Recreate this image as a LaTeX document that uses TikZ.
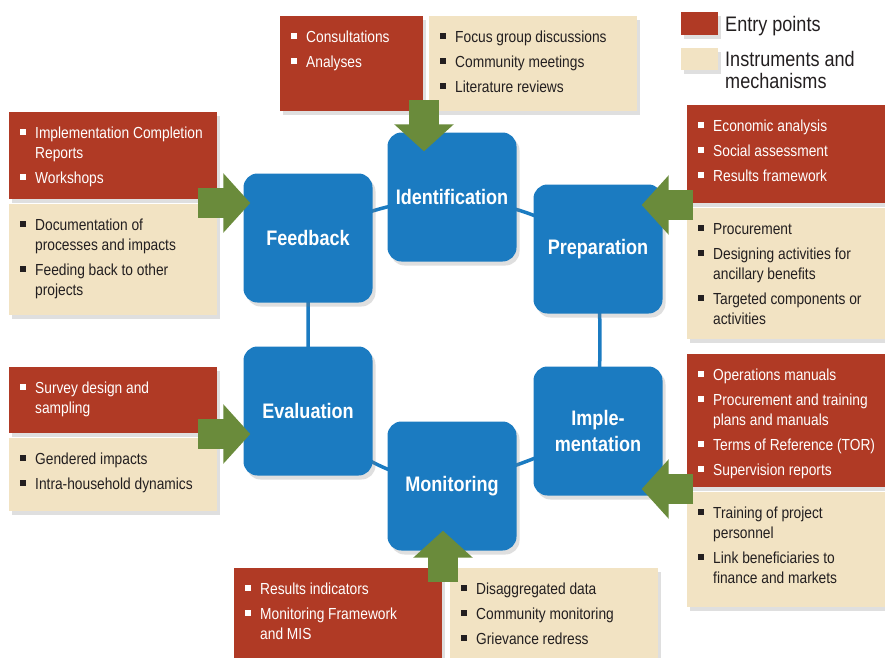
\documentclass[tikz,border=0pt]{standalone}
\usepackage{fontspec}
\setmainfont{Liberation Sans}[FakeStretch=0.86]
\usetikzlibrary{arrows.meta,shadows,backgrounds}

\definecolor{entryred}{RGB}{176,58,37}
\definecolor{instrbeige}{RGB}{242,227,195}
\definecolor{stageblue}{RGB}{27,123,193}
\definecolor{arrowgreen}{RGB}{106,139,59}
\definecolor{textdark}{RGB}{35,31,32}

\newcommand{\bul}{\leavevmode\llap{\raisebox{3.5pt}{\rule{5.5pt}{5.5pt}}\hspace{9.5pt}}}
\newcommand{\boxtext}[3]{\parbox[c][#2][t]{#1}{\fontsize{16}{20}\selectfont\raggedright\leftskip=26pt\vspace*{12pt}\strut#3}}

\begin{document}
\begin{tikzpicture}[x=1pt,y=-1pt,
    stage/.style={fill=stageblue, rounded corners=14pt, minimum size=129pt, inner sep=0pt,
      text=white, font=\fontsize{21}{26}\selectfont\bfseries, align=center,
      drop shadow={opacity=.25,shadow xshift=3pt,shadow yshift=-4pt}},
    entry/.style={fill=entryred, text=white, anchor=north west, inner sep=0pt,
      drop shadow={opacity=.25,shadow xshift=3pt,shadow yshift=-4pt}},
    instr/.style={fill=instrbeige, text=textdark, anchor=north west, inner sep=0pt,
      drop shadow={opacity=.25,shadow xshift=3pt,shadow yshift=-4pt}},
    legend/.style={text=textdark, font=\fontsize{21}{22}\selectfont, align=left, inner sep=0pt},
    ring/.style={stageblue, line width=3.5pt},
    garrow/.style={arrowgreen, line width=30pt, -{Triangle[width=58pt,length=27pt]}}]
  \useasboundingbox (0,0) rectangle (885,657);

  % the six project stages
  \foreach \name/\x/\y/\txt in {identification/452/197/Identification, preparation/598/249/Preparation,
      implementation/598/431/{Imple-\\mentation}, monitoring/452/486/Monitoring,
      evaluation/308/411/Evaluation, feedback/308/238/Feedback}
    \node[stage] (\name) at (\x,\y) {\txt};

  \begin{scope}[on background layer] % cycle behind the stages
    \draw[ring] (feedback.center) to[bend left=11] (identification.center)
      to[bend left=13] (preparation.center) to[bend left=2] (implementation.center)
      to[bend left=4] (monitoring.center) to[bend left=19] (evaluation.center) -- (feedback.center);
  \end{scope}

  % Identification
  \node[entry] (identE) at (280,16) {\boxtext{143pt}{95pt}{\bul Consultations\\[5pt]\bul Analyses}};
  \node[instr] (identI) at (429,16) {\boxtext{208pt}{95pt}{\bul Focus group discussions\\[5pt]\bul Community meetings\\[5pt]\bul Literature reviews}};

  % Feedback
  \node[entry] (feedE) at (9,112) {\boxtext{208pt}{87pt}{\bul Implementation Completion\\Reports\\[5pt]\bul Workshops}};
  \node[instr] (feedI) at (9,204) {\boxtext{208pt}{111pt}{\bul Documentation of\\processes and impacts\\[5pt]\bul Feeding back to other\\projects}};

  % Preparation
  \node[entry] (prepE) at (687,105) {\boxtext{200pt}{98pt}{\bul Economic analysis\\[5pt]\bul Social assessment\\[5pt]\bul Results framework}};
  \node[instr] (prepI) at (687,208) {\boxtext{200pt}{131pt}{\bul Procurement\\[5pt]\bul Designing activities for\\ancillary benefits\\[5pt]\bul Targeted components or\\activities}};

  % Implementation
  \node[entry] (implE) at (687,354) {\boxtext{200pt}{133pt}{\bul Operations manuals\\[5pt]\bul Procurement and training\\plans and manuals\\[5pt]\bul Terms of Reference (TOR)\\[5pt]\bul Supervision reports}};
  \node[instr] (implI) at (687,492) {\boxtext{200pt}{115pt}{\bul Training of project\\personnel\\[5pt]\bul Link beneficiaries to\\finance and markets}};

  % Evaluation
  \node[entry] (evalE) at (9,367) {\boxtext{208pt}{66pt}{\bul Survey design and\\sampling}};
  \node[instr] (evalI) at (9,438) {\boxtext{208pt}{73pt}{\bul Gendered impacts\\[5pt]\bul Intra-household dynamics}};

  % Monitoring
  \node[entry] (monE) at (234,568) {\boxtext{208pt}{92pt}{\bul Results indicators\\[5pt]\bul Monitoring Framework\\and MIS}};
  \node[instr] (monI) at (450,568) {\boxtext{208pt}{92pt}{\bul Disaggregated data\\[5pt]\bul Community monitoring\\[5pt]\bul Grievance redress}};

  % green arrows into the stages
  \coordinate (identT) at (424,100);
  \coordinate (feedT) at (198,203);
  \coordinate (prepT) at (693,205);
  \coordinate (implT) at (693,489);
  \coordinate (evalT) at (198,434);
  \coordinate (monT) at (443,582);
  \foreach \tail/\stage/\anc/\dx/\dy in {identT/identification/north/-28/-19, feedT/feedback/west/7/35,
      prepT/preparation/east/-21/44, implT/implementation/east/-21/-58,
      evalT/evaluation/west/7/-23, monT/monitoring/south/-9/20}
    \draw[garrow] (\tail) -- ([xshift=\dx pt,yshift=\dy pt]\stage.\anc);

  % legend
  \node[entry, minimum width=37pt, minimum height=23pt] (keyE) at (681,12) {};
  \node[instr, minimum width=37pt, minimum height=22pt] (keyI) at (681,48) {};
  \node[legend, anchor=base west] (keyEtext) at (725,31) {Entry points};
  \node[legend, anchor=base west] (keyItext) at (725,88) {Instruments and\\mechanisms};
\end{tikzpicture}
\end{document}
